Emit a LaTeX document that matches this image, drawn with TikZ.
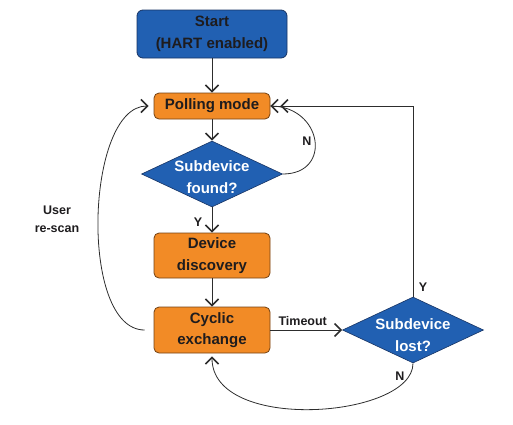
\documentclass[tikz,border=0pt]{standalone}
\usepackage{fontspec}
\setmainfont{Liberation Sans}
\usetikzlibrary{arrows.meta,shapes.geometric}
\definecolor{hblue}{RGB}{33,96,178}
\definecolor{blueedge}{RGB}{24,52,100}
\definecolor{horange}{RGB}{242,139,38}
\definecolor{orangeedge}{RGB}{115,66,20}
\definecolor{linegray}{RGB}{45,45,45}
\definecolor{textdark}{RGB}{30,28,30}
\tikzset{
	>={Straight Barb[length=6.5pt,width=13pt,line width=1.6pt]},
	twotip/.style={-{Straight Barb[length=6.5pt,width=13pt,line width=1.6pt,sep=1.5pt]Straight Barb[length=6.5pt,width=13pt,line width=1.6pt]}},
	every node/.style={font=\fontsize{15}{21.5}\selectfont\bfseries},
	flow/.style={draw=linegray, line width=0.8pt},
	startbox/.style={
			rectangle, rounded corners=6pt, draw=blueedge, fill=hblue, line width=0.8pt,
			minimum width=150pt, minimum height=48pt, inner sep=0pt, align=center, text=textdark
		},
	stepbox/.style={
			rectangle, rounded corners=5pt, draw=orangeedge, fill=horange, line width=0.8pt,
			minimum width=116pt, inner sep=0pt, align=center, text=textdark
		},
	decision/.style={
			diamond, draw=blueedge, fill=hblue, line width=0.6pt,
			minimum width=141pt, minimum height=66pt, inner sep=0pt
		},
	decisiontext/.style={text=white, align=center, inner sep=0pt},
	tag/.style={font=\fontsize{12.5}{18}\selectfont\bfseries, text=textdark, align=center}
}
\begin{document}
\begin{tikzpicture}[x=1pt,y=-1pt]
	\useasboundingbox (0,0) rectangle (513,424);

	\node[startbox] (start) at (212,34) {Start\\(HART enabled)};
	\node[stepbox, minimum height=26pt] (poll) at (212,106) {Polling mode};
	\node[decision] (found) at (212,174) {};
	\node[decisiontext] (foundtxt) at (212,177) {Subdevice\\found?};
	\node[stepbox, minimum height=45pt] (disc) at (212,255.5) {Device\\discovery};
	\node[stepbox, minimum height=46pt] (cyc) at (212,330) {Cyclic\\exchange};
	\node[decision] (lost) at (413,330) {};
	\node[decisiontext] (losttxt) at (413,335) {Subdevice\\lost?};

	\draw[flow,->] (start) -- (poll);
	\draw[flow,->] (poll) -- (found);
	\draw[flow,->] (found) -- node[tag, left=6pt, pos=0.6] (yfound) {Y} (disc);
	\draw[flow,->] (disc) -- (cyc);
	\draw[flow,->] (cyc) -- node[tag, above=1pt, pos=0.45] (timeout) {Timeout} (lost);
	\draw[flow,twotip] (lost.north) |- (poll.east);
	\draw[flow] (found.east) .. controls +(50,0) and +(52,0) .. (poll.east);
	\draw[flow,->, shorten >=3pt] (lost.south) .. controls +(0,55) and +(0,80) .. (cyc.south);
	\draw[flow,->, shorten <=9pt, shorten >=5pt] (cyc.west) .. controls +(-75,0) and +(-68,0) .. (poll.west);

	\node[tag] (nfound) at (307,141) {N};
	\node[tag] (ylost) at (423,287) {Y};
	\node[tag] (nlost) at (400,376) {N};
	\node[tag] (rescan) at (57,219) {User\\re-scan};
\end{tikzpicture}
\end{document}
